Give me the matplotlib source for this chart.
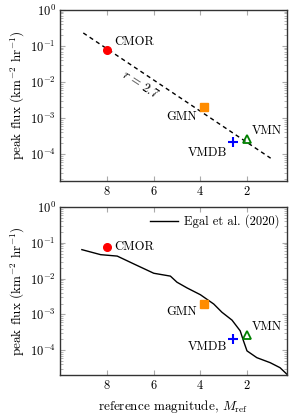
import numpy as np
from matplotlib import pyplot as plt

plt.rcParams['font.family'] = 'serif'
plt.rcParams['font.serif'] = ['cmr10']
plt.rcParams['mathtext.fontset'] = 'cm'
plt.rcParams['axes.formatter.use_mathtext'] = True
plt.rcParams['font.size'] = 9

# observations
names = ['CMOR', 'GMN', 'VMDB', 'VMN']
mag = [8.0, 3.85, 2.6, 2.0]
flux = [0.075, 2.0e-3, 2.1e-4, 2.6e-4]
colors = ['red', 'darkorange', 'blue', 'green']
markers = ['o', 's', '+', '^']

# label anchors (magnitude, flux) for each panel
lab_mag = [7.66, 4.17, 2.85, 1.79]
lab_flux_top = [0.13, 1.07e-3, 1.1e-4, 4.4e-4]
lab_flux_bot = [0.079, 1.15e-3, 1.2e-4, 4.6e-4]
lab_ha = ['left', 'right', 'right', 'left']

# r = 2.7 fit line end points
fit_mag = [9.0, 1.0]
fit_flux = [0.23, 7.7e-5]

# Egal et al. (2020) model
egal_mag = [9.06, 8.26, 7.55, 6.84, 5.99, 5.28, 5.0, 4.57, 4.0, 3.43, 3.08,
            2.65, 2.30, 2.16, 2.01, 1.59, 1.02, 0.60, 0.31]
egal_log = [-1.19, -1.33, -1.37, -1.59, -1.85, -1.93, -2.10, -2.26, -2.45,
            -2.71, -2.94, -3.16, -3.46, -3.74, -4.02, -4.21, -4.35, -4.49, -4.67]
egal_flux = 10**np.array(egal_log)

fig = plt.figure(figsize=(2.92, 4.15), dpi=100)
ax1 = fig.add_axes([0.205, 0.564, 0.778, 0.412])
ax2 = fig.add_axes([0.205, 0.096, 0.778, 0.405])


def draw_obs(ax, lab_flux):
    for m, f, c, mk in zip(mag, flux, colors, markers):
        if mk == '+':
            ax.plot(m, f, mk, color=c, ms=7, mew=1.5, zorder=3)
        elif mk == '^':
            ax.plot(m, f, mk, mfc='none', mec=c, ms=6, mew=1.3, zorder=3)
        else:
            ax.plot(m, f, mk, color=c, ms=5.5, zorder=3)
    for n, lm, lf, ha in zip(names, lab_mag, lab_flux, lab_ha):
        ax.text(lm, lf, n, ha=ha, va='center', fontsize=9)


ax1.plot(fit_mag, fit_flux, '--', color='black', lw=1.0, dashes=(3, 2.5))
ax1.text(6.55, 8.3e-3, r'$r$ = 2.7', rotation=-33, ha='center', va='center',
         fontsize=9)
draw_obs(ax1, lab_flux_top)

ax2.plot(egal_mag, egal_flux, '-', color='black', lw=1.0,
         label='Egal et al. (2020)')
draw_obs(ax2, lab_flux_bot)
leg = ax2.legend(loc='upper right', frameon=False, fontsize=9,
                 handlelength=2.2, handletextpad=0.5, borderaxespad=0.2)

for ax in (ax1, ax2):
    ax.set_yscale('log')
    ax.set_xlim(10, 0.3)
    ax.set_xticks([8, 6, 4, 2])
    ax.set_ylim(1.8e-5, 1)
    ax.set_yticks([1e-4, 1e-3, 1e-2, 1e-1, 1e0])
    ax.tick_params(which='both', direction='in', top=True, right=True,
                   color='#aaaaaa', labelsize=9, pad=3)
    ax.tick_params(which='major', length=3.5)
    ax.tick_params(which='minor', length=2)
    for s in ax.spines.values():
        s.set_linewidth(1.0)
        s.set_color('#333333')
    ax.set_ylabel(r'peak flux (km$^{-2}$ hr$^{-1}$)', fontsize=9.5, labelpad=2)

ax2.set_ylim(2e-5, 1)
ax2.set_xlabel(r'reference magnitude, $M_\mathrm{ref}$', fontsize=9.5)

fig.savefig('out.png', dpi=100)
